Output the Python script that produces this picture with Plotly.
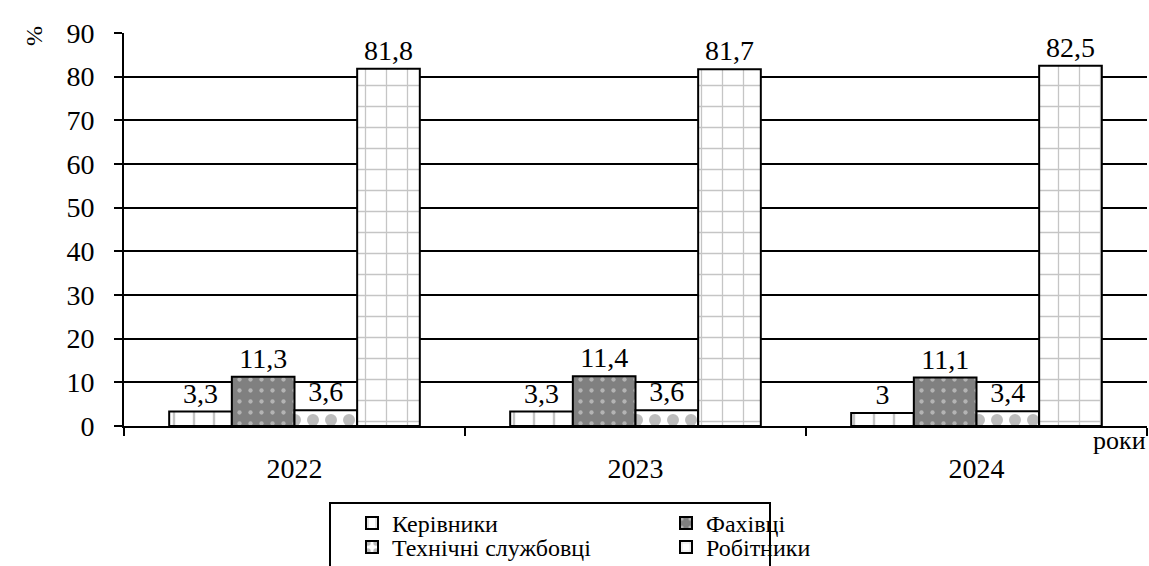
import plotly.graph_objects as go

# Частка категорій персоналу за роками, %
years = ["2022", "2023", "2024"]
kerivnyky = [3.3, 3.3, 3.0]
fakhivtsi = [11.3, 11.4, 11.1]
tekhnichni = [3.6, 3.6, 3.4]
robitnyky = [81.8, 81.7, 82.5]

series_names = ["Керівники", "Фахівці", "Технічні службовці", "Робітники"]

FONT = "Liberation Serif, DejaVu Serif, serif"

W, H = 1149, 566
ML, MR, MT, MB = 124, 2, 33, 140

styles = [
    dict(bg="white", fg="#8c8c8c", shape="|", size=20, solidity=0.12),
    dict(bg="#808080", fg="#e8e8e8", shape=".", size=11, solidity=0.12),
    dict(bg="white", fg="#7a7a7a", shape=".", size=18, solidity=0.35),
    dict(bg="white", fg="#8c8c8c", shape="+", size=21, solidity=0.12),
]

fig = go.Figure()
for i, (name, vals) in enumerate(zip(series_names, [kerivnyky, fakhivtsi, tekhnichni, robitnyky])):
    st = styles[i]
    fig.add_trace(go.Bar(
        x=years, y=vals, name=name,
        marker=dict(
            color=st["bg"],
            line=dict(color="black", width=2),
            pattern=dict(shape=st["shape"], fgcolor=st["fg"], bgcolor=st["bg"],
                         size=st["size"], solidity=st["solidity"], fillmode="overlay"),
        ),
        text=vals, texttemplate="%{y}", textposition="outside",
        textfont=dict(family=FONT, size=28, color="black"),
        cliponaxis=False,
        legend="legend" if i < 2 else "legend2",
    ))

plot_h = H - MT - MB
def py(p):
    return (H - MB - p) / plot_h
def px(p):
    return (p - ML) / (W - ML - MR)

legend_common = dict(
    orientation="h", xref="paper", yref="paper", xanchor="left", yanchor="top",
    font=dict(family=FONT, size=24, color="black"), bgcolor="rgba(0,0,0,0)",
    borderwidth=0, entrywidth=269, entrywidthmode="pixels", itemwidth=30,
    tracegroupgap=0,
)

fig.update_layout(
    width=W, height=H,
    margin=dict(l=ML, r=MR, t=MT, b=MB, autoexpand=False),
    paper_bgcolor="white", plot_bgcolor="white",
    barmode="group", bargap=0.265, bargroupgap=0,
    separators=", ",
    font=dict(family=FONT, size=28, color="black"),
    legend=dict(x=px(352), y=py(501), **legend_common),
    legend2=dict(x=px(352), y=py(525), **legend_common),
    showlegend=True,
    xaxis=dict(
        type="category", showline=True, linecolor="black", linewidth=2,
        ticks="outside", tickson="boundaries", ticklen=8, tickwidth=2, tickcolor="black",
        showgrid=False, ticklabelstandoff=16,
        tickfont=dict(family=FONT, size=28, color="black"),
    ),
    yaxis=dict(
        range=[0, 90], dtick=10, showline=True, linecolor="black", linewidth=2,
        ticks="outside", ticklen=8, tickwidth=2, tickcolor="black",
        showgrid=True, gridcolor="black", gridwidth=2, zeroline=False,
        tickfont=dict(family=FONT, size=28, color="black"),
        ticklabelstandoff=14,
    ),
    shapes=[dict(type="rect", xref="paper", yref="paper",
                 x0=px(330), x1=px(770), y0=py(503), y1=py(580),
                 line=dict(color="black", width=2), fillcolor="rgba(0,0,0,0)")],
    annotations=[
        dict(text="%", xref="paper", yref="paper", x=px(20), y=py(24),
             showarrow=False, textangle=90, font=dict(family=FONT, size=24)),
        dict(text="роки", xref="paper", yref="paper", x=px(1148), y=py(440),
             xanchor="right", yanchor="middle", showarrow=False,
             font=dict(family=FONT, size=26)),
    ],
)

fig.write_html("out.html")
